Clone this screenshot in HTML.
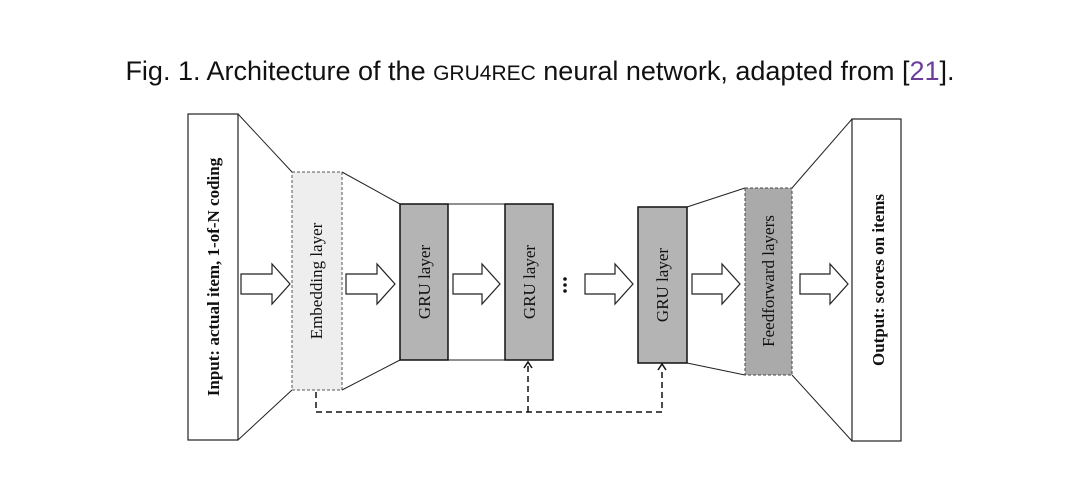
<!DOCTYPE html>
<html><head><meta charset="utf-8"><style>
html,body{margin:0;padding:0;background:#fff;width:1080px;height:497px;overflow:hidden}
</style></head><body>
<svg width="1080" height="497" xmlns="http://www.w3.org/2000/svg">
<text x="540" y="80" text-anchor="middle" font-family="Liberation Sans, sans-serif" font-size="27" fill="#111">Fig. 1.  Architecture of the <tspan font-size="21">GRU4REC</tspan> neural network, adapted from [<tspan fill="#6a3d9a">21</tspan>].</text>
<g stroke="#222" stroke-width="1" fill="none">
<line x1="238" y1="114" x2="292" y2="172"/><line x1="238" y1="440" x2="292" y2="390"/>
<line x1="342" y1="172" x2="400" y2="204"/><line x1="342" y1="390" x2="400" y2="360"/>
<line x1="448" y1="204" x2="505" y2="204"/><line x1="448" y1="360" x2="505" y2="360"/>
<line x1="687" y1="207" x2="745" y2="188"/><line x1="687" y1="363" x2="745" y2="375"/>
<line x1="792" y1="188" x2="852" y2="119"/><line x1="792" y1="375" x2="852" y2="441"/>
</g>
<rect x="188" y="114" width="50" height="326" fill="#fff" stroke="#222" stroke-width="1.2"/>
<rect x="292" y="172" width="50" height="218" fill="#eeeeee" stroke="#555" stroke-width="1" stroke-dasharray="3,2"/>
<rect x="400" y="204" width="48" height="156" fill="#b4b4b4" stroke="#111" stroke-width="1.5"/>
<rect x="505" y="204" width="48" height="156" fill="#b4b4b4" stroke="#111" stroke-width="1.5"/>
<rect x="638" y="207" width="49" height="156" fill="#b4b4b4" stroke="#111" stroke-width="1.5"/>
<rect x="745" y="188" width="47" height="187" fill="#aaaaaa" stroke="#444" stroke-width="1" stroke-dasharray="3,2"/>
<rect x="852" y="119" width="49" height="322" fill="#fff" stroke="#222" stroke-width="1.2"/>
<g font-family="Liberation Serif, serif" font-size="17" fill="#111" text-anchor="middle">
<text transform="translate(219,277) rotate(-90)" font-weight="bold">Input: actual item, 1-of-N coding</text>
<text transform="translate(322,281) rotate(-90)">Embedding layer</text>
<text transform="translate(430,282) rotate(-90)">GRU layer</text>
<text transform="translate(535,282) rotate(-90)">GRU layer</text>
<text transform="translate(668,285) rotate(-90)">GRU layer</text>
<text transform="translate(774,281) rotate(-90)">Feedforward layers</text>
<text transform="translate(884,280) rotate(-90)" font-weight="bold">Output: scores on items</text>
</g>
<g fill="#fff" stroke="#222" stroke-width="1.2">
<path d="M241,274 H272 V264 L290,284 L272,304 V294 H241 Z"/>
<path d="M346,274 H377 V264 L395,284 L377,304 V294 H346 Z"/>
<path d="M453,274 H482 V264 L500,284 L482,304 V294 H453 Z"/>
<path d="M585,274 H615 V264 L633,284 L615,304 V294 H585 Z"/>
<path d="M692,274 H722 V264 L740,284 L722,304 V294 H692 Z"/>
<path d="M800,274 H830 V264 L848,284 L830,304 V294 H800 Z"/>
</g>
<g fill="#111"><circle cx="565" cy="279" r="1.8"/><circle cx="565" cy="285" r="1.8"/><circle cx="565" cy="291" r="1.8"/></g>
<g stroke="#111" stroke-width="1.5" fill="none" stroke-dasharray="6,4">
<path d="M316,392 V412 H662 V368"/>
<path d="M528,412 V366"/>
</g>
<g stroke="#111" stroke-width="1.5" fill="none">
<path d="M524,368 L528,362 L532,368"/><path d="M658,370 L662,364 L666,370"/>
</g>
</svg>
</body></html>
